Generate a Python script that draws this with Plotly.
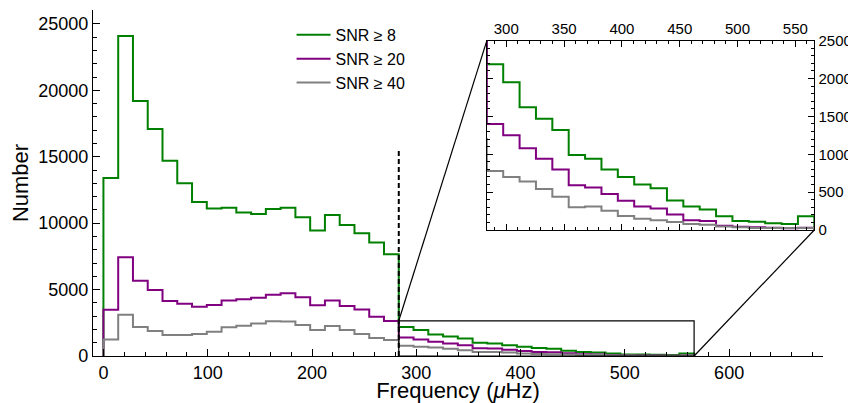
import plotly.graph_objects as go

# ---------------- data ----------------
bin_edges = [0, 14.16, 28.32, 42.48, 56.64, 70.8, 84.96, 99.12, 113.28, 127.44,
             141.6, 155.76, 169.92, 184.08, 198.24, 212.4, 226.56, 240.72, 254.88, 269.04,
             283.2, 297.36, 311.52, 325.68, 339.84, 354.0, 368.16, 382.32, 396.48, 410.64,
             424.8, 438.96, 453.12, 467.28, 481.44, 495.6, 509.76, 523.92, 538.08, 552.24,
             566.4]

snr8 = [13400, 24100, 19200, 17100, 14700, 13000, 11600, 11100, 11170, 10800,
        10700, 11070, 11170, 10440, 9440, 10620, 9860, 9240, 8540, 7660,
        2190, 1950, 1620, 1470, 1320, 990, 940, 800, 700, 600,
        550, 390, 310, 270, 180, 120, 110, 90, 80, 180]

snr20 = [3490, 7430, 5670, 4970, 4140, 3940, 3710, 3840, 4170, 4270,
         4390, 4620, 4720, 4420, 3820, 4170, 3770, 3510, 2960, 2640,
         1400, 1250, 1080, 940, 800, 590, 560, 475, 385, 310,
         285, 205, 130, 120, 57, 44, 35, 31, 22, 31]

snr40 = [1250, 3110, 2180, 1880, 1580, 1580, 1660, 1830, 2160, 2280,
         2440, 2610, 2590, 2330, 1960, 2260, 1960, 1660, 1360, 1200,
         780, 700, 640, 540, 440, 300, 310, 255, 185, 150,
         130, 105, 80, 70, 45, 35, 26, 26, 26, 26]

series_names = ["SNR ≥ 8", "SNR ≥ 20", "SNR ≥ 40"]
series_values = [snr8, snr20, snr40]
series_colors = ["#008000", "#800080", "#808080"]

main_xticks = [0, 100, 200, 300, 400, 500, 600]
main_yticks = [0, 5000, 10000, 15000, 20000, 25000]
inset_xticks = [300, 350, 400, 450, 500, 550]
inset_yticks = [0, 500, 1000, 1500, 2000, 2500]

nyquist = 283.2
dashed_top = 15560
box_top = 2650

main_xrange = [-10, 690]
main_yrange = [0, 26050]
inset_xrange = [283.2, 566.4]
inset_yrange = [0, 2500]
inset_xdomain = [0.5395, 0.9881]
inset_ydomain = [0.3642, 0.9113]

FONT = "Liberation Sans, Arial, sans-serif"


def step_xy(edges, vals):
    xs = [edges[0]] + edges[:-1] + [edges[-1], edges[-1]]
    ys = [0] + list(vals) + [vals[-1], 0]
    return xs, ys


fig = go.Figure()

for name, vals, col in zip(series_names, series_values, series_colors):
    xs, ys = step_xy(bin_edges, vals)
    fig.add_trace(go.Scatter(x=xs, y=ys, mode="lines", line=dict(color=col, width=2, shape="hv"),
                             name=name, xaxis="x", yaxis="y", showlegend=True))
for name, vals, col in zip(series_names, series_values, series_colors):
    xs, ys = step_xy(bin_edges, vals)
    fig.add_trace(go.Scatter(x=xs, y=ys, mode="lines", line=dict(color=col, width=2, shape="hv"),
                             name=name, xaxis="x2", yaxis="y2", showlegend=False))


def to_paper_x(v):
    return (v - main_xrange[0]) / (main_xrange[1] - main_xrange[0])


def to_paper_y(v):
    return (v - main_yrange[0]) / (main_yrange[1] - main_yrange[0])


shapes = [
    dict(type="line", xref="x", yref="y", x0=nyquist, x1=nyquist, y0=0, y1=dashed_top,
         line=dict(color="black", width=2, dash="5px,3px")),
    dict(type="rect", xref="x", yref="y", x0=inset_xrange[0], x1=inset_xrange[1], y0=0, y1=box_top,
         line=dict(color="black", width=1.2)),
    dict(type="line", xref="paper", yref="paper",
         x0=to_paper_x(inset_xrange[0]), y0=to_paper_y(box_top),
         x1=inset_xdomain[0], y1=inset_ydomain[1], line=dict(color="black", width=1.2)),
    dict(type="line", xref="paper", yref="paper",
         x0=to_paper_x(inset_xrange[1]), y0=to_paper_y(0),
         x1=inset_xdomain[1], y1=inset_ydomain[0], line=dict(color="black", width=1.2)),
]

# page body has an 8px default margin; size the figure so it fills the 856x403 window
fig.update_layout(
    width=848, height=395,
    margin=dict(l=85, r=33, t=2, b=47),
    paper_bgcolor="white", plot_bgcolor="white",
    font=dict(family=FONT, color="black", size=18),
    shapes=shapes,
    legend=dict(x=0.272, y=0.977, xanchor="left", yanchor="top", bgcolor="rgba(0,0,0,0)",
                font=dict(size=16, family=FONT), itemwidth=34, tracegroupgap=0),
    xaxis=dict(range=main_xrange, domain=[0, 1], showgrid=False, zeroline=False, automargin=False,
               showline=True, linecolor="black", linewidth=1.3,
               ticks="inside", ticklen=7, tickwidth=1.3, tickcolor="black",
               tickmode="array", tickvals=main_xticks, ticktext=[str(v) for v in main_xticks],
               tickfont=dict(size=18),
               minor=dict(ticks="inside", ticklen=4, tickwidth=1, tickcolor="black", dtick=20, tick0=0,
                          showgrid=False),
               title=dict(text="Frequency (<i>μ</i>Hz)", font=dict(size=22), standoff=7)),
    yaxis=dict(range=main_yrange, domain=[0, 1], showgrid=False, zeroline=False, automargin=False,
               showline=True, linecolor="black", linewidth=1.3,
               ticks="inside", ticklen=7, tickwidth=1.3, tickcolor="black",
               tickmode="array", tickvals=main_yticks, ticktext=[str(v) for v in main_yticks],
               tickfont=dict(size=18),
               minor=dict(ticks="inside", ticklen=4, tickwidth=1, tickcolor="black", dtick=1000, tick0=0,
                          showgrid=False),
               title=dict(text="Number", font=dict(size=22), standoff=6)),
    xaxis2=dict(range=inset_xrange, domain=inset_xdomain, anchor="y2", side="top", automargin=False,
                showgrid=False, zeroline=False, showline=True, mirror="allticks",
                linecolor="black", linewidth=1.3,
                ticks="inside", ticklen=6, tickwidth=1.2, tickcolor="black",
                tickmode="array", tickvals=inset_xticks, ticktext=[str(v) for v in inset_xticks],
                tickfont=dict(size=15),
                minor=dict(ticks="inside", ticklen=3, tickwidth=1, tickcolor="black", dtick=10, tick0=0,
                           showgrid=False)),
    yaxis2=dict(range=inset_yrange, domain=inset_ydomain, anchor="x2", side="right", automargin=False,
                showgrid=False, zeroline=False, showline=True, mirror="allticks",
                linecolor="black", linewidth=1.3,
                ticks="inside", ticklen=6, tickwidth=1.2, tickcolor="black",
                tickmode="array", tickvals=inset_yticks, ticktext=[str(v) for v in inset_yticks],
                tickfont=dict(size=15),
                minor=dict(ticks="inside", ticklen=3, tickwidth=1, tickcolor="black", dtick=100, tick0=0,
                           showgrid=False)),
)

fig.write_html("out.html")
